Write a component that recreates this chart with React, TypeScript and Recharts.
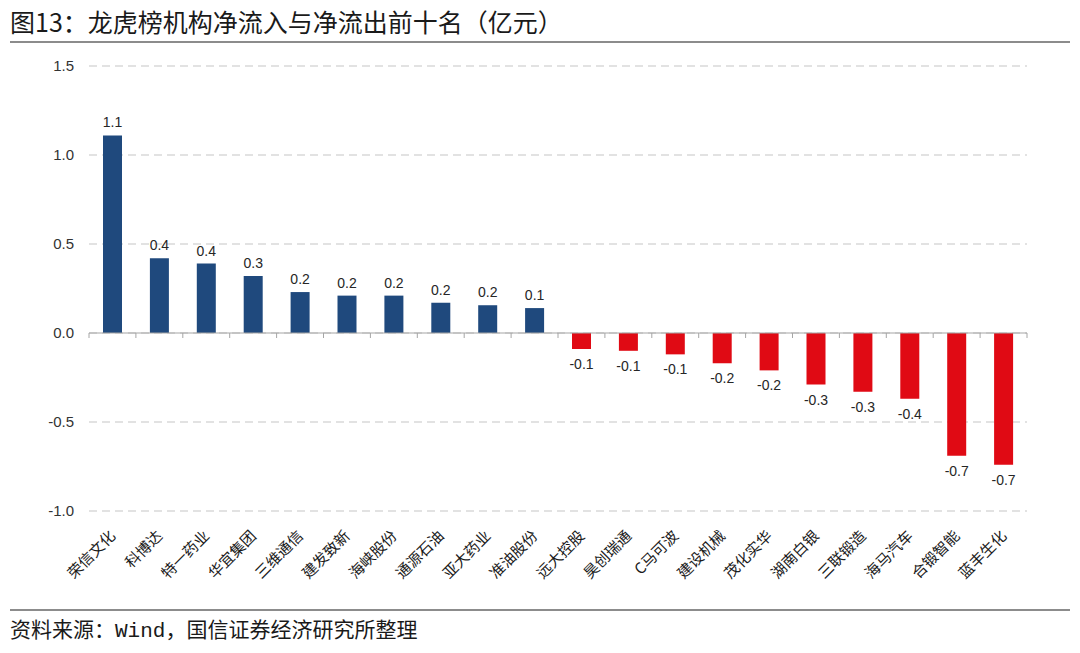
import React from 'react';
import { BarChart, Bar, XAxis, YAxis, CartesianGrid, ReferenceLine, LabelList, Cell } from 'recharts';

// 个股名称（净流入前十 + 净流出前十）
const stocks = [
  '荣信文化', '科博达', '特一药业', '华宜集团', '三维通信',
  '建发致新', '海峡股份', '通源石油', '亚大药业', '准油股份',
  '远大控股', '昊创瑞通', 'C马可波', '建设机械', '茂化实华',
  '湖南白银', '三联锻造', '海马汽车', '合锻智能', '蓝丰生化',
];

// 机构净流入（亿元）
const netFlow = [
  1.11, 0.42, 0.39, 0.32, 0.23,
  0.21, 0.21, 0.17, 0.156, 0.14,
  -0.09, -0.1, -0.12, -0.17, -0.21,
  -0.29, -0.33, -0.37, -0.69, -0.74,
];

const yTicks = [-1.0, -0.5, 0.0, 0.5, 1.0, 1.5];

const BLUE = '#1F497D';
const RED = '#E00A14';
const CJK = '"Noto Sans CJK SC", sans-serif';
const NUM = '"Liberation Sans", Arial, sans-serif';

const data = stocks.map((name, i) => ({ name, value: netFlow[i] }));

const ZeroAxis = (props: any) => {
  const { x1, y1, x2 } = props;
  const n = data.length;
  const step = (x2 - x1) / n;
  const ticks = [];
  for (let i = 0; i <= n; i++) {
    const tx = x1 + step * i;
    ticks.push(<line key={i} x1={tx} y1={y1} x2={tx} y2={y1 + 5} stroke="#a6a6a6" strokeWidth={1} />);
  }
  return (
    <g>
      <line x1={x1} y1={y1} x2={x2} y2={y1} stroke="#a6a6a6" strokeWidth={1.2} />
      {ticks}
    </g>
  );
};

const NameTick = (props: any) => {
  const { x, y, payload } = props;
  return (
    <g transform={`translate(${x + 4},${y + 26})`}>
      <text transform="rotate(-45)" textAnchor="end" fontSize={15} fill="#1a1a1a" fontFamily={CJK}>
        {payload.value}
      </text>
    </g>
  );
};

const ValueLabel = (props: any) => {
  const { x, y, width, height, value } = props;
  const top = Math.min(y, y + height);
  const bottom = Math.max(y, y + height);
  const cx = x + width / 2;
  const ty = value >= 0 ? top - 8 : bottom + 20;
  return (
    <text x={cx} y={ty} textAnchor="middle" fontSize={14} fill="#262626" fontFamily={NUM}>
      {Number(value).toFixed(1)}
    </text>
  );
};

export default function App() {
  return (
    <div style={{ position: 'absolute', left: 0, top: 0, width: 1080, height: 653, background: '#fff', overflow: 'hidden' }}>
      <div style={{ position: 'absolute', left: 10, top: 3, fontFamily: CJK, fontSize: 25, color: '#1a1a1a', lineHeight: '36px', whiteSpace: 'nowrap' }}>
        图13：龙虎榜机构净流入与净流出前十名（亿元）
      </div>
      <div style={{ position: 'absolute', left: 10, top: 41, width: 1060, height: 2, background: '#8c8c8c' }} />

      <div style={{ position: 'absolute', left: 0, top: 0 }}>
        <BarChart
          width={1080}
          height={620}
          data={data}
          margin={{ top: 66, right: 53, left: 0, bottom: 19 }}
        >
          <CartesianGrid vertical={false} stroke="#d9d9d9" strokeDasharray="8 5" strokeWidth={1.5} />
          <XAxis
            dataKey="name"
            height={90}
            interval={0}
            axisLine={false}
            tickLine={false}
            tickSize={0}
            tickMargin={0}
            tick={<NameTick />}
          />
          <YAxis
            width={89}
            domain={[-1, 1.5]}
            ticks={yTicks}
            axisLine={false}
            tickLine={false}
            tickMargin={9}
            tickFormatter={(v: number) => v.toFixed(1)}
            tick={{ fontSize: 15, fill: '#333', fontFamily: NUM }}
          />
          <ReferenceLine y={0} shape={<ZeroAxis />} ifOverflow="extendDomain" />
          <Bar dataKey="value" barSize={19} isAnimationActive={false}>
            {data.map((d, i) => (
              <Cell key={i} fill={d.value >= 0 ? BLUE : RED} />
            ))}
            <LabelList dataKey="value" content={<ValueLabel />} />
          </Bar>
        </BarChart>
      </div>

      <div style={{ position: 'absolute', left: 10, top: 609, width: 1060, height: 2, background: '#8c8c8c' }} />
      <div style={{ position: 'absolute', left: 10, top: 616, fontFamily: `"Liberation Mono", ${CJK}`, fontSize: 21, color: '#1a1a1a', lineHeight: '32px', whiteSpace: 'nowrap' }}>
        资料来源：Wind，国信证券经济研究所整理
      </div>
    </div>
  );
}
